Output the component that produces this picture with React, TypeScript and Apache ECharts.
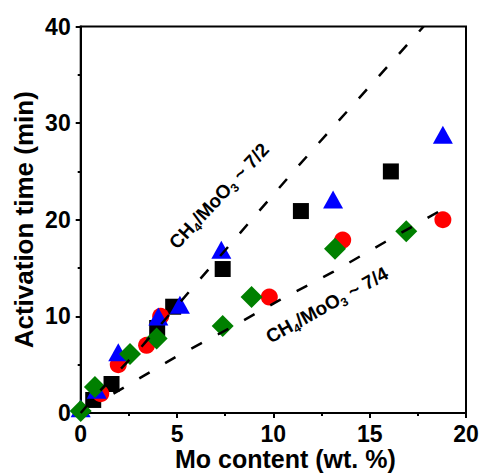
import React, { useEffect, useRef } from "react";
import * as echarts from "echarts";

const xTicks = { min: 0, max: 20, interval: 5 };
const yTicks = { min: 0, max: 40, interval: 10 };

const blackSquares: number[][] = [
  [0.65, 1.35], [1.6, 3.0], [3.97, 8.8], [4.8, 11.0], [7.37, 14.9], [11.43, 20.9], [16.1, 25.0],
];
const redCircles: number[][] = [
  [1.04, 2.0], [1.95, 5.0], [3.42, 7.0], [4.15, 10.0], [9.79, 12.0], [13.6, 17.9], [18.8, 20.0],
];
const blueTriangles: number[][] = [
  [0.0, 0.5], [0.83, 2.4], [1.95, 6.3], [4.03, 10.0], [5.15, 11.2], [7.3, 16.9], [13.1, 22.1], [18.8, 28.8],
];
const greenDiamonds: number[][] = [
  [0.0, 0.2], [0.74, 2.7], [2.56, 6.1], [3.94, 7.7], [7.37, 9.0], [8.87, 12.0], [13.2, 17.0], [16.9, 18.8],
];
const upperFit: number[][] = [
  [0, 0], [1, 2.3], [3, 6.5], [6, 13.4], [9, 20.3], [11, 24.9], [13.1, 29.6], [17.8, 40],
];
const lowerFit: number[][] = [
  [1.7, 2.0], [4.93, 5.8], [7.66, 8.7], [10.34, 11.7], [13.1, 14.6], [15.8, 17.7], [18.9, 21.2],
];

const FONT = "'Liberation Sans', Arial, Helvetica, sans-serif";

export default function App() {
  const ref = useRef<HTMLDivElement>(null);
  useEffect(() => {
    if (!ref.current) return;
    const chart = echarts.init(ref.current, null, { renderer: "svg" });
    const axisCommon = {
      axisLine: { show: true, onZero: false, lineStyle: { color: "#000", width: 2 } },
      axisTick: { show: true, inside: false, length: 5, lineStyle: { color: "#000", width: 2 } },
      minorTick: { show: true, splitNumber: 2, length: 3, lineStyle: { color: "#000", width: 2 } },
      splitLine: { show: false },
      nameLocation: "middle" as const,
      nameMoveOverlap: false,
    };
    const richAnno = (main: string) => ({
      text: `{a|CH}{s|4}{a|/MoO}{s|3}{a| ~ ${main}}`,
      rich: {
        a: { fontSize: 19, fontFamily: FONT, fontWeight: "bold", fill: "#000", lineHeight: 24, verticalAlign: "middle" },
        s: { fontSize: 12, fontFamily: FONT, fontWeight: "bold", fill: "#000", lineHeight: 24, verticalAlign: "bottom" },
      },
      align: "center",
      verticalAlign: "middle",
    });
    chart.setOption({
      animation: false,
      backgroundColor: "#fff",
      grid: {
        left: 80.7,
        right: 15,
        top: 26.5,
        bottom: 63,
        show: true,
        borderColor: "#000",
        borderWidth: 2,
        containLabel: false,
        outerBoundsMode: "none",
      },
      xAxis: {
        type: "value",
        ...xTicks,
        ...axisCommon,
        name: "Mo content (wt. %)",
        nameGap: 34,
        nameTextStyle: { fontFamily: FONT, fontWeight: "bold", fontSize: 25, lineHeight: 24, color: "#000", padding: [0, 0, 0, 24] },
        axisLabel: { fontFamily: FONT, fontWeight: "bold", fontSize: 23, lineHeight: 20, color: "#000", margin: 11 },
      },
      yAxis: {
        type: "value",
        ...yTicks,
        ...axisCommon,
        name: "Activation time (min)",
        nameGap: 44,
        nameTextStyle: { fontFamily: FONT, fontWeight: "bold", fontSize: 26, color: "#000" },
        axisLabel: { fontFamily: FONT, fontWeight: "bold", fontSize: 23, color: "#000", margin: 10 },
      },
      series: [
        { type: "scatter", data: blackSquares, symbol: "rect", symbolSize: 16, itemStyle: { color: "#000", opacity: 1 }, clip: true },
        { type: "scatter", data: redCircles, symbol: "circle", symbolSize: 17, itemStyle: { color: "#ff0000", opacity: 1 }, clip: true },
        { type: "scatter", data: blueTriangles, symbol: "triangle", symbolSize: [20, 18], itemStyle: { color: "#0000ff", opacity: 1 }, clip: true },
        { type: "scatter", data: greenDiamonds, symbol: "diamond", symbolSize: 22, itemStyle: { color: "#008000", opacity: 1 }, clip: true },
        {
          type: "line", data: upperFit, smooth: false, showSymbol: false, symbol: "none", clip: true,
          lineStyle: { color: "#000", width: 2.5, type: [12, 18] },
        },
        {
          type: "line", data: lowerFit, smooth: false, showSymbol: false, symbol: "none", clip: true,
          lineStyle: { color: "#000", width: 2.5, type: [12, 18] },
        },
      ],
      graphic: [
        { type: "text", x: 219, y: 196, rotation: (47 * Math.PI) / 180, style: richAnno("7/2"), z: 100 },
        { type: "text", x: 327, y: 305, rotation: (29 * Math.PI) / 180, style: richAnno("7/4"), z: 100 },
      ],
    });
    return () => chart.dispose();
  }, []);
  return <div ref={ref} style={{ position: "fixed", left: 0, top: 0, width: 481, height: 476 }} />;
}
